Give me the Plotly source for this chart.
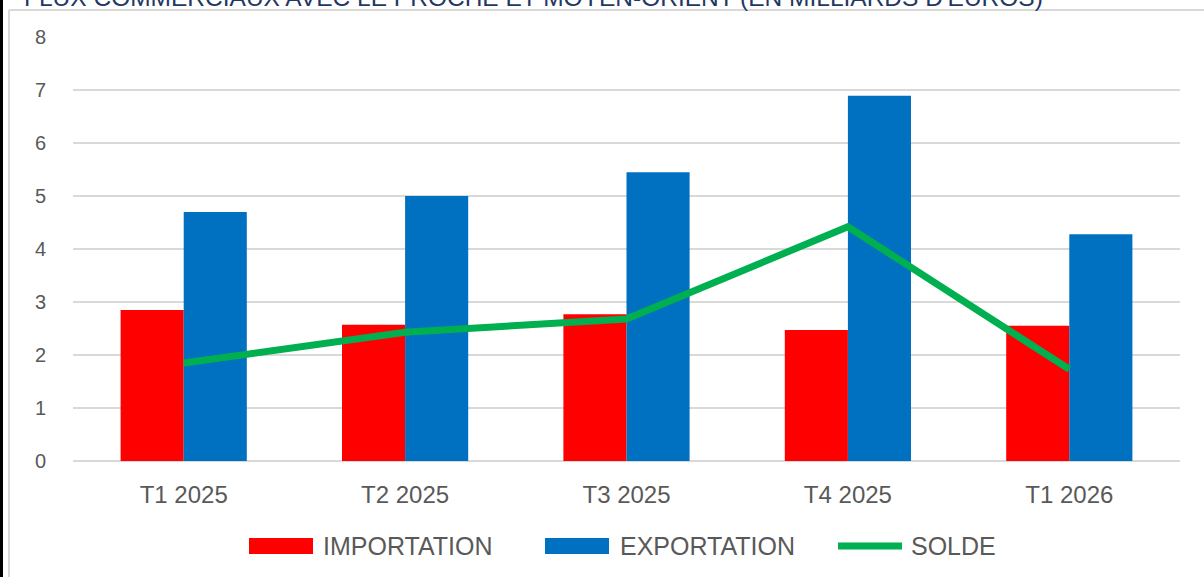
import plotly.graph_objects as go

# ---- data ----
categories = ["T1 2025", "T2 2025", "T3 2025", "T4 2025", "T1 2026"]
importation = [2.85, 2.57, 2.77, 2.47, 2.55]
exportation = [4.70, 5.00, 5.45, 6.89, 4.28]
solde = [1.85, 2.43, 2.68, 4.42, 1.73]
y_ticks = [0, 1, 2, 3, 4, 5, 6, 7, 8]

RED = "#FF0000"
BLUE = "#0070C0"
GREEN = "#00B050"
GRID = "#D9D9D9"
TXT = "#595959"
FONT = "Liberation Sans, Arial, sans-serif"

W, H = 1204, 577
L, R, T, B = 73, 24, 37, 116
PW, PH = W - L - R, H - T - B


def px(x):
    return (x - L) / PW


def py(y):
    return (H - B - y) / PH


fig = go.Figure()
fig.add_trace(go.Bar(x=categories, y=importation, name="IMPORTATION",
                     marker=dict(color=RED, line=dict(width=0))))
fig.add_trace(go.Bar(x=categories, y=exportation, name="EXPORTATION",
                     marker=dict(color=BLUE, line=dict(width=0))))
fig.add_trace(go.Scatter(x=categories, y=solde, name="SOLDE", mode="lines",
                         line=dict(color=GREEN, width=7)))

shapes = []
annotations = []

# chart frame
shapes.append(dict(type="line", xref="paper", yref="paper",
                   x0=px(1.5), x1=px(1.5), y0=py(-5), y1=py(H + 5),
                   line=dict(color="black", width=3)))
shapes.append(dict(type="line", xref="paper", yref="paper",
                   x0=px(9), x1=px(9), y0=py(10), y1=py(H + 5),
                   line=dict(color=GRID, width=2)))
shapes.append(dict(type="line", xref="paper", yref="paper",
                   x0=px(9), x1=px(W + 5), y0=py(10), y1=py(10),
                   line=dict(color=GRID, width=2)))

# title (partly cut off by the top edge, as in the reference)
annotations.append(dict(
    text="FLUX COMMERCIAUX AVEC LE PROCHE ET MOYEN-ORIENT (EN MILLIARDS D'EUROS)",
    xref="paper", yref="paper", x=px(22), y=py(13), xanchor="left", yanchor="bottom",
    showarrow=False, font=dict(family=FONT, size=24.5, color="#1F3864")))

# custom legend
leg_y = 546
items = [
    ("IMPORTATION", "box", RED, 249, 313, 321),
    ("EXPORTATION", "box", BLUE, 545, 609, 618),
    ("SOLDE", "line", GREEN, 835, 905, 909),
]
for label, kind, col, x0, x1, xt in items:
    if kind == "box":
        shapes.append(dict(type="rect", xref="paper", yref="paper",
                           x0=px(x0), x1=px(x1), y0=py(leg_y - 8), y1=py(leg_y + 8),
                           fillcolor=col, line=dict(width=0)))
    else:
        shapes.append(dict(type="line", xref="paper", yref="paper",
                           x0=px(x0 + 3), x1=px(x1 - 3), y0=py(leg_y), y1=py(leg_y),
                           line=dict(color=col, width=7)))
    annotations.append(dict(text=label, xref="paper", yref="paper",
                            x=px(xt), y=py(leg_y), xanchor="left", yanchor="middle",
                            showarrow=False, font=dict(family=FONT, size=25, color=TXT)))

fig.update_layout(
    width=W, height=H,
    margin=dict(l=L, r=R, t=T, b=B),
    paper_bgcolor="white", plot_bgcolor="white",
    barmode="group", bargap=0.43, bargroupgap=0,
    showlegend=False,
    shapes=shapes, annotations=annotations,
    font=dict(family=FONT, color=TXT),
)
fig.update_xaxes(showgrid=False, showline=False, ticks="outside", ticklen=0,
                 tickcolor="white", ticklabelstandoff=12,
                 tickfont=dict(family=FONT, size=24, color=TXT))
fig.update_yaxes(range=[0, 8], tickvals=y_ticks, showgrid=True, gridcolor=GRID,
                 gridwidth=2, zeroline=True, zerolinecolor=GRID, zerolinewidth=2,
                 showline=False, ticks="", ticklabelstandoff=26,
                 tickfont=dict(family=FONT, size=20, color=TXT))

fig.write_html("out.html", config={"displayModeBar": False},
               post_script="document.body.style.margin='0';document.body.style.overflow='hidden';")
